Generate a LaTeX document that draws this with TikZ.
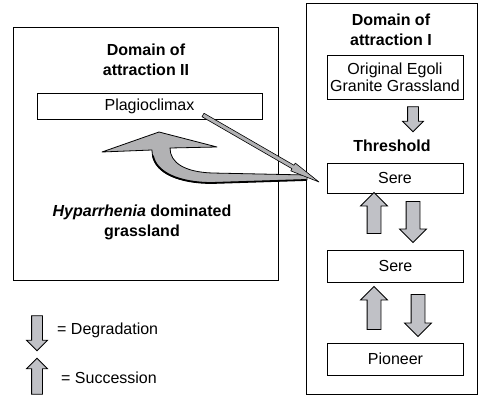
\documentclass[tikz,border=0pt]{standalone}
\usepackage{fontspec}
\setmainfont{Liberation Sans}
\usetikzlibrary{shapes.arrows,calc}
\definecolor{arrgray}{RGB}{192,193,198}
\definecolor{biggray}{RGB}{178,178,180}
\begin{document}
\begin{tikzpicture}[x=1pt,y=-1pt,
  every node/.style={font=\fontsize{16}{18}\selectfont},
  box/.style={draw, line width=0.8pt, inner sep=0, align=center},
  frame/.style={draw, line width=1pt, inner sep=0},
  title/.style={font=\fontsize{16}{20}\selectfont\bfseries, align=center, inner sep=0},
  barrow/.style={single arrow, draw, line width=0.8pt, fill=arrgray, inner sep=5pt,
    minimum width=20pt, single arrow head extend=5pt, single arrow tip angle=90},
  bigbarrow/.style={barrow, inner sep=6.5pt, minimum width=26pt, single arrow head extend=6.5pt},
  uparr/.style={barrow, shape border rotate=90},
  downarr/.style={barrow, shape border rotate=270},
  bigup/.style={bigbarrow, shape border rotate=90},
  bigdown/.style={bigbarrow, shape border rotate=270},
  bigarrow/.style={fill=biggray, draw=black, line width=0.8pt, line join=round},
  thinarrow/.style={fill=biggray, draw=black, line width=0.6pt, line join=round}]
\useasboundingbox (0,0) rectangle (480,398);

% frames
\node[frame, minimum width=265pt, minimum height=253pt] (l2) at (145.5,154.5) {};
\node[frame, minimum width=171pt, minimum height=391pt] (r1) at (391.5,199.5) {};

% titles
\node[title] (t2) at (146,60) {Domain of\\attraction II};
\node[title] (t1) at (391,30) {Domain of\\attraction I};
\node[title] (thr) at (392,146) {Threshold};
\node[font=\fontsize{16}{20}\selectfont\bfseries, inner sep=0] (hyp) at (142,223)
  {\begin{tabular}{@{}c@{}}{\itshape Hyparrhenia} dominated\\grassland\end{tabular}};

% boxes
\node[box, minimum width=225pt, minimum height=26pt] (plag) at (149.5,106) {Plagioclimax};
\node[box, minimum width=136pt, minimum height=44pt, font=\fontsize{16}{17}\selectfont] (orig) at (395,77) {Original Egoli\\Granite Grassland};
\node[box, minimum width=136pt, minimum height=30pt] (sere1) at (395,178) {Sere};
\node[box, minimum width=136pt, minimum height=32pt] (sere2) at (395.5,266) {Sere};
\node[box, minimum width=136pt, minimum height=32pt] (pion) at (395.5,359) {Pioneer};

% block arrows
\node[downarr, minimum height=25pt] (d0) at (413,116.5) {};
\node[bigup, minimum height=41pt] (u1) at (374,216.5) {};
\node[bigdown, minimum height=41pt] (d1) at (413,218.5) {};
\node[bigup, minimum height=43pt] (u2) at (374,311.5) {};
\node[bigdown, minimum height=42pt] (d2) at (418,312) {};

% legend
\node[downarr, minimum height=35pt] (ld) at (37,330.5) {};
\node[anchor=west, inner sep=0] (ldt) at (57,330) {= Degradation};
\node[uparr, minimum height=36pt] (lu) at (37,379) {};
\node[anchor=west, inner sep=0] (lut) at (61,378) {= Succession};

% big curved arrow from Sere back to Plagioclimax
\path[bigarrow] (102,152) -- (159,132) -- (217,147) -- (170,148)
  .. controls (170,163) and (185,172) .. (212,173) -- (307,175) -- (307,180)
  -- (212,183) .. controls (172,183) and (152,170) .. (152,150) -- cycle;
\draw[line width=1.8pt, line cap=round] (153,156) .. controls (156,172) and (178,183) .. (212,183) -- (306,180);

% thin arrow from Plagioclimax to Sere
\coordinate (ts) at (203,115);
\coordinate (tt) at (319,182);
\coordinate (tb) at ($(tt)!30pt!(ts)$);
\path[thinarrow] ($(ts)!2pt!90:(tb)$) -- ($(tb)!2pt!-90:(ts)$) -- ($(tb)!4.5pt!-90:(ts)$)
  -- (tt) -- ($(tb)!4.5pt!90:(ts)$) -- ($(tb)!2pt!90:(ts)$) -- ($(ts)!2pt!-90:(tb)$) -- cycle;
\end{tikzpicture}
\end{document}
